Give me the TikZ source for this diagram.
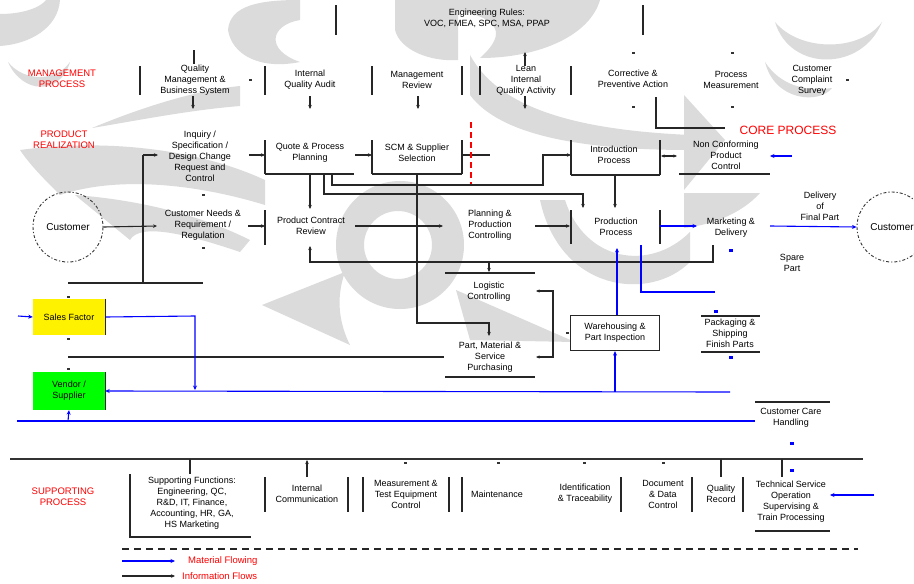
\documentclass[tikz,border=0pt]{standalone}
\usepackage{fontspec}
\setmainfont{Liberation Sans}
\usetikzlibrary{arrows.meta}
\begin{document}
\begin{tikzpicture}[x=1pt,y=-1pt,
  txt/.style={font=\fontsize{9}{11}\selectfont,align=center,inner sep=0pt},
  lbl/.style={font=\fontsize{9.5}{11}\selectfont,text=red,align=center,inner sep=0pt},
  ln/.style={line width=1.1pt,black!85},
  bar/.style={line width=1.4pt,black!85},
  ar/.style={ln,-{Stealth[length=4pt,width=3.5pt]}},
  bl/.style={line width=1.1pt,blue,-{Stealth[length=4.5pt,width=4pt]}},
  bln/.style={line width=1.1pt,blue},
  tkm/.style={fill=black!80,inner sep=0pt,minimum width=3pt,minimum height=2.5pt},
  tkb/.style={fill=blue,inner sep=0pt,minimum width=4pt,minimum height=3pt},
  wm/.style={fill=black!14},
  cust/.style={circle,draw=black!80,line width=0.9pt,dash pattern=on 1.2pt off 2pt on 3pt off 2pt,minimum size=70pt,inner sep=0pt,font=\fontsize{10}{12}\selectfont}
]
\useasboundingbox (0,0) rectangle (914,584);
\fill[white] (0,0) rectangle (914,584);

% ---------- watermark (approximate) ----------
\fill[wm] (0,14) .. controls (22,14) and (40,8) .. (46,0) -- (60,0) .. controls (58,28) and (30,44) .. (0,46) -- cycle;
\fill[wm] (8,62) .. controls (22,94) and (60,96) .. (70,62) .. controls (56,82) and (24,82) .. (8,62) -- cycle;
\fill[wm] (92,128) .. controls (150,104) and (200,90) .. (240,86) -- (240,106) .. controls (190,110) and (140,120) .. (92,128) -- cycle;
\fill[wm] (20,150) .. controls (110,138) and (200,150) .. (265,180) -- (265,205) .. controls (200,185) and (120,175) .. (60,195) .. controls (45,180) and (30,165) .. (20,150) -- cycle;
\fill[wm] (75,195) .. controls (140,200) and (200,215) .. (250,240) -- (240,252) .. controls (190,235) and (140,222) .. (130,240) -- cycle;
\fill[wm,even odd rule] (400,245) circle[radius=64] (398,245) circle[radius=34];
\fill[wm] (262,305) -- (345,272) .. controls (335,300) and (340,325) .. (350,345) -- cycle;
\fill[wm] (228,30) .. controls (230,5) and (260,0) .. (300,0) -- (300,20) .. controls (270,25) and (265,50) .. (300,62) .. controls (260,70) and (232,55) .. (228,30) -- cycle;
\fill[wm] (395,0) -- (458,0) -- (458,60) .. controls (430,62) and (400,50) .. (395,30) -- cycle;
\fill[wm] (456,0) -- (600,0) .. controls (590,35) and (540,58) .. (480,58) .. controls (500,40) and (510,20) .. (456,10) -- cycle;
\fill[wm] (470,55) .. controls (500,110) and (580,130) .. (690,135) -- (690,150) .. controls (580,150) and (500,135) .. (470,95) -- cycle;
\fill[wm] (775,22) .. controls (790,72) and (862,72) .. (882,22) .. controls (860,52) and (800,52) .. (775,22) -- cycle;
\fill[wm] (765,62) .. controls (775,102) and (820,104) .. (832,88) .. controls (805,92) and (780,85) .. (765,62) -- cycle;
\fill[wm] (684,95) -- (725,140) -- (684,190) -- cycle;
\fill[wm] (540,200) .. controls (560,292) and (650,302) .. (690,262) -- (690,232) .. controls (650,272) and (585,262) .. (565,200) -- cycle;
\fill[wm] (456,290) -- (575,342) -- (470,340) -- cycle;
\fill[wm] (684,193) -- (760,193) .. controls (740,215) and (710,225) .. (684,228) -- cycle;

% ---------- top ----------
\node[txt] (tools) at (487,18) {Engineering Rules:\\ VOC, FMEA, SPC, MSA, PPAP};
\draw[bar] (336,5) -- (336,35);
\draw[bar] (643,5) -- (643,35);

% ---------- red labels ----------
\node[lbl] (mgmt) at (62,79) {MANAGEMENT\\ PROCESS};
\node[lbl] (preal) at (64,140) {PRODUCT\\ REALIZATION};
\node[lbl] (supp) at (63,497) {SUPPORTING\\ PROCESS};
\node[lbl,font=\fontsize{12}{14}\selectfont] (core) at (788,130) {CORE PROCESS};

% ---------- management row ----------
\node[txt] (qms) at (195,80) {Quality\\ Management \&\\ Business System};
\node[txt] (iqa) at (310,80) {Internal\\ Quality Audit};
\node[txt] (mr) at (417,80) {Management\\ Review};
\node[txt] (lean) at (526,80) {Lean\\ Internal\\ Quality Activity};
\node[txt] (capa) at (633,79) {Corrective \&\\ Preventive Action};
\node[txt] (pm) at (731,80) {Process\\ Measurement};
\node[txt] (css) at (812,80) {Customer\\ Complaint\\ Survey};
\foreach \x in {140,265,372,462,480,571} \draw[bar] (\x,66) -- (\x,95);
\draw[ln] (194,50) -- (194,64);
\draw[ar] (193,96) -- (193,109);
\draw[ar] (310,96) -- (310,109);
\draw[ar] (418,96) -- (418,109);
\draw[ar] (525,96) -- (525,109);
\draw[ar] (525,66) -- (525,52);
\node[tkm] (k1) at (633,53) {};
\node[tkm] (k2) at (633,107) {};
\node[tkm] (k3) at (732,53) {};
\node[tkm] (k4) at (732,107) {};
\node[tkm] (k5) at (847,80) {};
\node[tkm] (k6) at (250,80) {};

% ---------- product realization row 2 ----------
\node[txt] (inq) at (200,156) {Inquiry /\\ Specification /\\ Design Change\\ Request and\\ Control};
\node[txt] (qpp) at (310,153) {Quote \& Process\\ Planning};
\node[txt] (scm) at (417,153) {SCM \& Supplier\\ Selection};
\node[txt] (ip) at (614,155) {Introduction\\ Process};
\node[txt] (ncp) at (726,155) {Non Conforming\\ Product\\ Control};
\draw[bar] (265,140) -- (265,174);
\draw[ln] (265,174) -- (354,174);
\draw[bar] (372,140) -- (372,174);
\draw[bar] (462,140) -- (462,174);
\draw[ln] (372,174) -- (462,174);
\draw[bar] (571,140) -- (571,175);
\draw[bar] (660,140) -- (660,175);
\draw[ln] (571,175) -- (660,175);
\draw[ln] (679,174) -- (770,174);
\draw[ar] (249,155) -- (265,155);
\draw[ar] (355,155) -- (372,155);
\draw[ln] (462,155) -- (490,155);
\draw[ln] (143,155) -- (143,283);
\draw[ar] (143,155) -- (158,155);
\draw[red,line width=1.2pt,dash pattern=on 6pt off 4pt] (471,122) -- (471,186);
\draw[ar] (332,174) -- (332,185) -- (543,185) -- (543,155) -- (571,155);
\draw[ln,{Stealth[length=3.5pt,width=3pt]}-{Stealth[length=3.5pt,width=3pt]}] (661,156) -- (677,156);
\draw[ln] (656,97) -- (656,128) -- (725,128);
\draw[bl] (792,156) -- (770,156);

% vertical links to row 3
\draw[ar] (310,174) -- (310,209);
\draw[ar] (324,174) -- (324,194) -- (583,194) -- (583,208);
\draw[ar] (615,176) -- (615,208);
\draw[ln] (417,174) -- (417,323) -- (490,323);

% ---------- product realization row 3 ----------
\node[cust] (custL) at (68,227) {Customer};
\node[cust] (custR) at (892,227) {Customer};
\node[txt] (cnr) at (203,225) {Customer Needs \&\\ Requirement /\\ Regulation};
\node[txt] (pcr) at (311,226) {Product Contract\\ Review};
\node[txt] (ppc) at (490,225) {Planning \&\\ Production\\ Controlling};
\node[txt] (pp) at (616,227) {Production\\ Process};
\node[txt] (md) at (731,228) {Marketing \&\\ Delivery};
\node[txt] (dfp) at (820,206) {Delivery\\ of\\ Final Part};
\node[txt] (spp) at (792,263) {Spare\\ Part};
\node[tkm] (k7) at (203,195) {};
\node[tkm] (k8) at (203,248) {};
\draw[ar] (custL.east) -- (157,226);
\draw[bar] (265,210) -- (265,245);
\draw[ar] (248,226) -- (265,226);
\draw[ar] (355,226) -- (443,226);
\draw[bar] (571,210) -- (571,244);
\draw[bar] (660,210) -- (660,244);
\draw[ar] (535,226) -- (570,226);
\draw[ar] (713,245) -- (713,262) -- (310,262) -- (310,246);
\draw[bl] (660,226) -- (697,226);
\draw[bl] (770,226) -- (custR.west);
\node[tkb] (b1) at (731,250) {};

% ---------- row 4 ----------
\node[txt] (lc) at (489,292) {Logistic\\ Controlling};
\node[txt] (pms) at (490,357) {Part, Material \&\\ Service\\ Purchasing};
\node[draw=black!85,fill=white,line width=1.2pt,txt,minimum width=89pt,minimum height=35pt] (wpi) at (615,333) {Warehousing \&\\ Part Inspection};
\node[txt] (psf) at (730,333) {Packaging \&\\ Shipping\\ Finish Parts};
\draw[ln] (445,273) -- (535,273);
\draw[ln] (445,377) -- (535,377);
\draw[ar] (489,262) -- (489,272);
\draw[ar] (489,323) -- (489,336);
\draw[ln,{Stealth[length=3.5pt,width=3pt]}-{Stealth[length=3.5pt,width=3pt]}] (536,291) -- (553,291) -- (553,357) -- (536,357);
\draw[ln] (701,316) -- (760,316);
\draw[ln] (701,352) -- (760,352);
\draw[bl] (wpi.north -| 617,0) -- (617,248);
\draw[bl] (615,392) -- (wpi.south -| 615,0);
\draw[bln] (641,245) -- (641,292) -- (715,292);
\node[tkb] (b2) at (716,311) {};
\node[tkb] (b3) at (731,357) {};
\node[tkm] (k9) at (567,333) {};

% ---------- left side ----------
\node[fill=yellow,inner sep=0pt,minimum width=72pt,minimum height=36pt,font=\fontsize{9}{11}\selectfont] (sf) at (69,317) {Sales Factor};
\node[fill=green,inner sep=0pt,minimum width=72pt,minimum height=38pt,align=center,font=\fontsize{9}{11}\selectfont] (vs) at (69,391) {Vendor /\\ Supplier};
\draw[line width=1.2pt,black!85] (sf.north east) -- (sf.south east);
\draw[line width=1.2pt,black!85] (vs.north east) -- (vs.south east);
\draw[ln] (68,283) -- (203,283);
\draw[ln] (68,357) -- (444,357);
\node[tkm] (k10) at (68,297) {};
\node[tkm] (k11) at (68,339) {};
\node[tkm] (k12) at (68,369) {};
\draw[bl] (18,316) -- (sf.west);
\draw[bl] (sf.east) -- (195,316) -- (195,390);
\draw[bl] (730,392) -- (vs.east);
\draw[bl] (68,421) -- (vs.south);
\draw[bln] (17,421) -- (755,421);

% ---------- customer care ----------
\node[txt] (cch) at (791,418) {Customer Care\\ Handling};
\draw[ln] (755,402) -- (830,402);
\node[tkb] (b4) at (792,443) {};

% ---------- supporting ----------
\draw[line width=1.4pt,black!80] (10,459) -- (863,459);
\node[txt] (sfn) at (192,503) {Supporting Functions:\\ Engineering, QC,\\ R\&D, IT, Finance,\\ Accounting, HR, GA,\\ HS Marketing};
\draw[ln] (130,474) -- (130,537) -- (251,537);
\draw[ln] (190,459) -- (190,474);
\node[txt] (icm) at (307,494) {Internal\\ Communication};
\draw[bar] (265,477) -- (265,512);
\draw[bar] (348,477) -- (348,512);
\draw[ar] (307,477) -- (307,460);
\node[txt] (mte) at (406,494) {Measurement \&\\ Test Equipment\\ Control};
\draw[bar] (363,477) -- (363,512);
\draw[bar] (449,477) -- (449,512);
\node[tkm] (k13) at (405,463) {};
\node[txt] (mnt) at (497,494) {Maintenance};
\draw[bar] (462,477) -- (462,512);
\node[tkm] (k14) at (498,463) {};
\node[txt] (idt) at (585,494) {Identification\\ \& Traceability};
\draw[bar] (621,477) -- (621,512);
\node[tkm] (k15) at (584,463) {};
\node[txt] (ddc) at (663,494) {Document\\ \& Data\\ Control};
\node[tkm] (k16) at (663,463) {};
\draw[bar] (692,477) -- (692,512);
\node[txt] (qr) at (721,494) {Quality\\ Record};
\draw[ln] (721,459) -- (721,477);
\draw[bar] (743,477) -- (743,512);
\node[txt] (tso) at (791,502) {Technical Service\\ Operation\\ Supervising \&\\ Train Processing};
\draw[ln] (782,459) -- (782,477);
\draw[ln] (755,531) -- (830,531);
\node[tkb] (b5) at (792,470) {};
\draw[bl] (874,495) -- (830,495);

% ---------- legend ----------
\draw[line width=1.1pt,black!85,dash pattern=on 7pt off 5pt] (122,549) -- (858,549);
\coordinate (la1) at (122,561);
\coordinate (la2) at (175,561);
\coordinate (lb1) at (122,576);
\coordinate (lb2) at (175,576);
\draw[bl] (la1) -- (la2);
\draw[ar] (lb1) -- (lb2);
\node[lbl,anchor=west] (lt1) at (188,561) {Material Flowing};
\node[lbl,anchor=west] (lt2) at (182,576) {Information Flows};
\end{tikzpicture}
\end{document}
